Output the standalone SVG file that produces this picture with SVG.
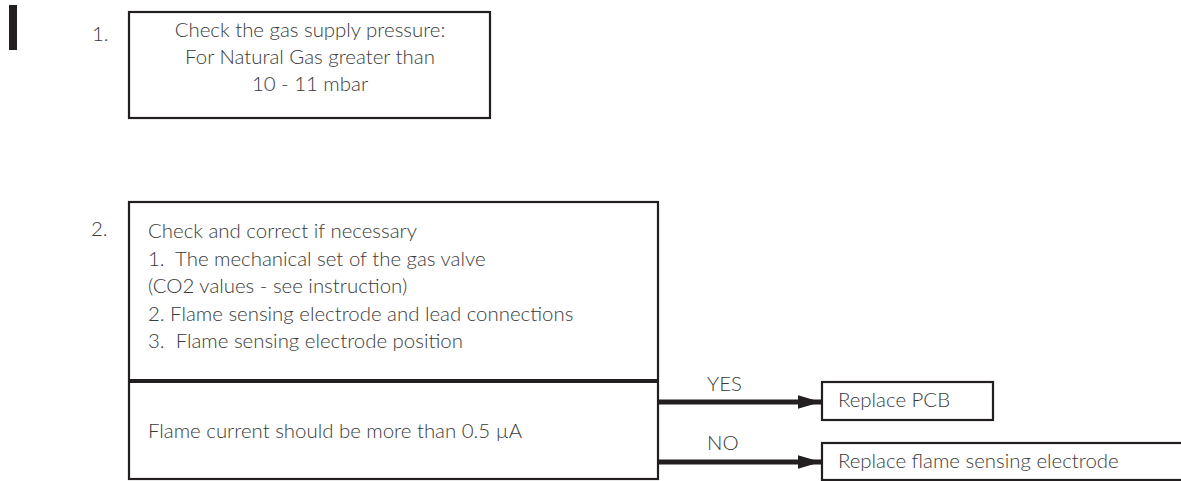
<svg xmlns="http://www.w3.org/2000/svg" width="1181" height="481" viewBox="0 0 1181 481">
<defs>
<style>
.box{fill:#fff;stroke:#231f20;stroke-width:2.2}
.t{font-family:Lato,"Open Sans","Liberation Sans",sans-serif;font-weight:300;font-size:20.4px;fill:#3a3a3a}
.c{text-anchor:middle}
.arr{stroke:#231f20;stroke-width:5;fill:none}
</style>
<marker id="ah" viewBox="0 0 10 10" refX="10" refY="5" markerWidth="4.6" markerHeight="2.7" orient="auto" markerUnits="strokeWidth" preserveAspectRatio="none">
<path d="M0,0 L10,5 L0,10 z" fill="#231f20"/>
</marker>
</defs>
<rect x="9" y="5" width="8" height="45" fill="#231f20"/>
<g id="n1">
<text class="t" x="92" y="41">1.</text>
<rect class="box" x="129" y="12" width="361" height="106"/>
<text class="t c" x="310" y="37">Check the gas supply pressure:</text>
<text class="t c" x="310" y="64">For Natural Gas greater than</text>
<text class="t c" x="310" y="91">10 - 11 mbar</text>
</g>
<g id="n2">
<text class="t" x="91" y="236">2.</text>
<rect class="box" x="129" y="202" width="529" height="277"/>
<line x1="129" y1="381" x2="658" y2="381" stroke="#231f20" stroke-width="4"/>
<text class="t" x="148" y="238">Check and correct if necessary</text>
<text class="t" x="148" y="266">1.&#160; The mechanical set of the gas valve</text>
<text class="t" x="148" y="293">(CO2 values - see instruction)</text>
<text class="t" x="148" y="321">2. Flame sensing electrode and lead connections</text>
<text class="t" x="148" y="348">3.&#160; Flame sensing electrode position</text>
<text class="t" x="148" y="438">Flame current should be more than 0.5 µA</text>
</g>
<g id="n3">
<rect class="box" x="822" y="382" width="171" height="38"/>
<text class="t" x="838" y="407">Replace PCB</text>
</g>
<g id="n4">
<rect class="box" x="822" y="443" width="362" height="37"/>
<text class="t" x="838" y="468">Replace flame sensing electrode</text>
</g>
<g id="connectors">
<line class="arr" x1="659" y1="402" x2="821" y2="402" marker-end="url(#ah)"/>
<line class="arr" x1="659" y1="462" x2="821" y2="462" marker-end="url(#ah)"/>
<text class="t" x="707" y="391">YES</text>
<text class="t" x="707" y="450">NO</text>
</g>
</svg>
